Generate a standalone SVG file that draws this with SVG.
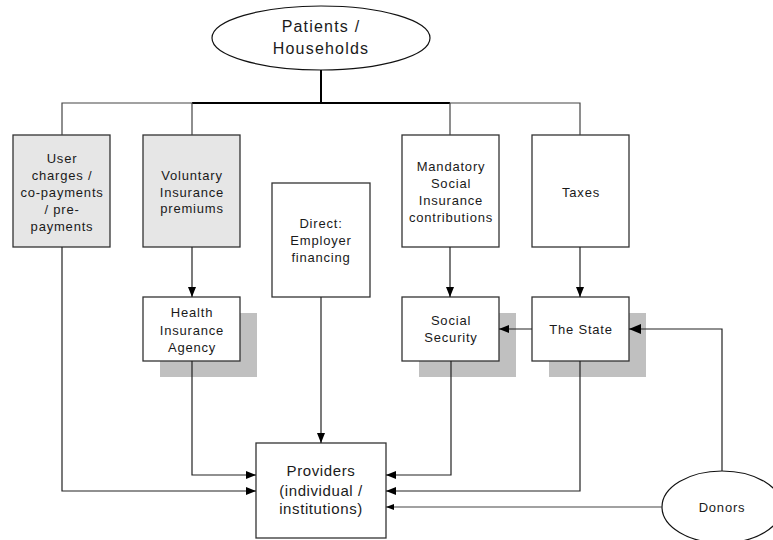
<svg xmlns="http://www.w3.org/2000/svg" width="773" height="540" viewBox="0 0 773 540">
<defs>
<style>
.bx{fill:#fff;stroke:#333;stroke-width:1.3}
.gr{fill:#e6e6e6;stroke:#333;stroke-width:1.3}
.sh{fill:#c0c0c0;stroke:none}
.el{fill:#fff;stroke:#111;stroke-width:1.2}
.t{font-family:"Liberation Sans",Arial,sans-serif;font-size:13px;letter-spacing:0.8px;fill:#1a1a1a;text-anchor:middle}
.tl{font-family:"Liberation Sans",Arial,sans-serif;font-size:15px;letter-spacing:0.6px;fill:#1a1a1a;text-anchor:middle}
.te{font-family:"Liberation Sans",Arial,sans-serif;font-size:16px;letter-spacing:1.2px;fill:#1a1a1a;text-anchor:middle}
.c{fill:none;stroke:#444;stroke-width:1.2}
.a{fill:none;stroke:#222;stroke-width:1.2;marker-end:url(#ah)}
.as{fill:none;stroke:#444;stroke-width:1.2;marker-end:url(#ahs)}
.ab{fill:none;stroke:#222;stroke-width:1.2;marker-end:url(#ahb)}
</style>
<marker id="ah" markerUnits="userSpaceOnUse" markerWidth="10" markerHeight="8" refX="10" refY="4" orient="auto"><path d="M0,0 L10,4 L0,8 z" fill="#000"/></marker>
<marker id="ahs" markerUnits="userSpaceOnUse" markerWidth="8" markerHeight="6" refX="8" refY="3" orient="auto"><path d="M0,0 L8,3 L0,6 z" fill="#000"/></marker>
<marker id="ahb" markerUnits="userSpaceOnUse" markerWidth="12" markerHeight="10" refX="12" refY="5" orient="auto"><path d="M0,0 L12,5 L0,10 z" fill="#000"/></marker>
</defs>

<g id="patients">
<ellipse class="el" cx="321" cy="38" rx="109" ry="32"/>
<text class="te" x="321" y="32">Patients /</text>
<text class="te" x="321" y="54">Households</text>
</g>

<g id="user-charges">
<rect class="gr" x="13" y="135" width="97" height="112"/>
<text class="t" x="62" y="163">User</text>
<text class="t" x="62" y="180">charges /</text>
<text class="t" x="62" y="197">co-payments</text>
<text class="t" x="62" y="214">/ pre-</text>
<text class="t" x="62" y="231">payments</text>
</g>

<g id="voluntary">
<rect class="gr" x="143" y="135" width="97" height="112"/>
<text class="t" x="192" y="180">Voluntary</text>
<text class="t" x="192" y="197">Insurance</text>
<text class="t" x="192" y="213">premiums</text>
</g>

<g id="direct">
<rect class="bx" x="272" y="183" width="98" height="114"/>
<text class="t" x="321" y="228">Direct:</text>
<text class="t" x="321" y="245">Employer</text>
<text class="t" x="321" y="262">financing</text>
</g>

<g id="mandatory">
<rect class="bx" x="402" y="135" width="97" height="112"/>
<text class="t" x="451" y="171">Mandatory</text>
<text class="t" x="451" y="188">Social</text>
<text class="t" x="451" y="205">Insurance</text>
<text class="t" x="451" y="222">contributions</text>
</g>

<g id="taxes">
<rect class="bx" x="532" y="135" width="97" height="112"/>
<text class="t" x="581" y="197">Taxes</text>
</g>

<g id="health-insurance-agency">
<rect class="sh" x="160" y="313" width="97" height="64"/>
<rect class="bx" x="143" y="297" width="97" height="64"/>
<text class="t" x="192" y="317">Health</text>
<text class="t" x="192" y="335">Insurance</text>
<text class="t" x="192" y="352">Agency</text>
</g>

<g id="social-security">
<rect class="sh" x="419" y="313" width="97" height="64"/>
<rect class="bx" x="402" y="297" width="97" height="64"/>
<text class="t" x="451" y="325">Social</text>
<text class="t" x="451" y="342">Security</text>
</g>

<g id="the-state">
<rect class="sh" x="549" y="313" width="97" height="64"/>
<rect class="bx" x="532" y="297" width="97" height="64"/>
<text class="t" x="581" y="334">The State</text>
</g>

<g id="providers">
<rect class="bx" x="256" y="443" width="130" height="95"/>
<text class="tl" x="321" y="476">Providers</text>
<text class="tl" x="321" y="496">(individual /</text>
<text class="tl" x="321" y="514">institutions)</text>
</g>

<g id="donors">
<ellipse class="el" cx="722" cy="507" rx="60" ry="36"/>
<text class="t" x="722" y="512">Donors</text>
</g>

<g id="connectors">
<path d="M321,70 V103" fill="none" stroke="#000" stroke-width="2"/>
<path d="M192,103 H450" fill="none" stroke="#000" stroke-width="2"/>
<path class="c" d="M62,135 V103 H192 V135"/>
<path class="c" d="M450,135 V103 H580 V135"/>
<path class="a" d="M192,247 V297"/>
<path class="a" d="M450,247 V297"/>
<path class="a" d="M580,247 V297"/>
<path class="a" d="M532,329 H499"/>
<path class="ab" d="M722,471 V329 H629"/>
<path class="a" d="M321,297 V443"/>
<path class="a" d="M192,361 V475 H256"/>
<path class="a" d="M62,247 V491 H256"/>
<path class="a" d="M451,361 V475 H386"/>
<path class="a" d="M580,361 V491 H386"/>
<path class="as" d="M662,507 H386"/>
</g>
</svg>
